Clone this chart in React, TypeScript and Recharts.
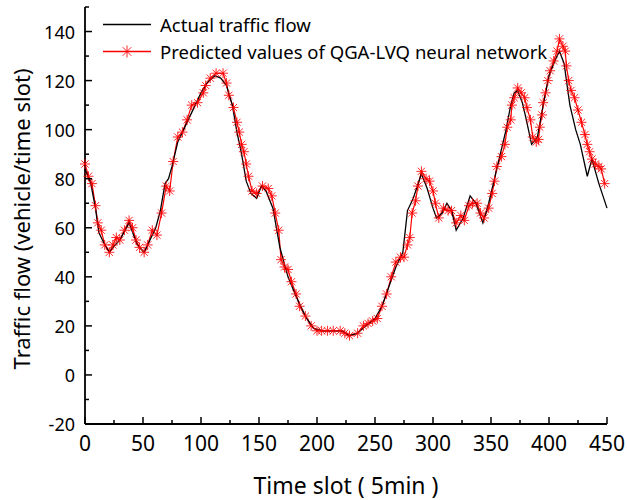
import { LineChart, Line, XAxis, YAxis } from 'recharts';

// Actual traffic flow (black line vertices)
const actualSlots = [
  0, 5, 9, 12, 15, 21, 26, 30, 38, 45, 51, 56, 61, 65, 69, 72, 75, 80, 85, 90,
  95, 100, 105, 112, 117, 122, 127, 131, 135, 139, 143, 148, 152, 156, 162, 168,
  175, 182, 190, 197, 205, 215, 222, 228, 235, 242, 250, 256, 262, 268, 274, 278,
  283, 290, 295, 300, 303, 308, 312, 316, 320, 326, 332, 337, 343, 348, 353, 358,
  363, 367, 370, 373, 377, 380, 385, 390, 395, 400, 405, 409, 413, 418, 423, 427,
  433, 437, 443, 450,
];
const actualFlow = [
  84, 78, 68, 58, 55, 50, 53, 55, 62, 53, 50, 55, 60, 67, 78, 80, 85, 95, 100, 105,
  110, 115, 119, 122, 121, 118, 110, 99, 90, 79, 74, 72, 77, 75, 68, 52,
  40, 32, 24, 19, 18, 18, 18, 16, 17, 20, 23, 28, 36, 44, 50, 67,
  72, 82, 76, 68, 64, 66, 70, 67, 59, 64, 73, 70, 62, 70, 80, 90,
  100, 110, 115, 116, 111, 105, 94, 97, 110, 122, 128, 132, 127, 110, 100, 94,
  81, 88, 78, 68,
];

// Predicted values of QGA-LVQ neural network (red stars)
const predictedSlots = [
  0, 3, 6, 9, 11, 14, 17, 21, 24, 27, 30, 34, 38, 41, 44, 47, 51, 54, 58, 62,
  66, 70, 73, 76, 80, 84, 88, 92, 97, 102, 104, 108, 113, 119, 122, 124, 128, 131,
  133, 135, 137, 139, 141, 144, 148, 153, 158, 161, 164, 167, 169, 172, 175, 178,
  182, 185, 190, 195, 200, 204, 209, 214, 220, 224, 228, 235, 240, 244, 248, 252,
  256, 260, 264, 268, 272, 275, 278, 280, 282, 285, 287, 290, 294, 297, 300, 302,
  305, 309, 313, 316, 320, 324, 327, 331, 334, 338, 341, 344, 348, 351, 353, 355,
  359, 362, 364, 367, 368, 370, 373, 376, 379, 381, 384, 386, 389, 391, 392, 394,
  395, 397, 399, 401, 404, 407, 409, 412, 414, 415, 417, 419, 422, 425, 428, 431,
  433, 435, 437, 440, 443, 445, 448,
];
const predictedFlow = [
  86, 81, 78, 69, 62, 59, 53, 50, 53, 56, 55, 59, 63, 60, 55, 52, 50, 53, 59, 57,
  66, 77, 75, 87, 97, 99, 104, 110, 111, 115, 118, 121, 123, 123, 119, 114, 109, 103,
  99, 94, 91, 86, 81, 75, 74, 77, 76, 73, 66, 59, 47, 44, 43, 38,
  33, 28, 24, 20, 18, 18, 18, 18, 18, 17, 16, 17, 20, 21, 22, 23,
  28, 33, 40, 46, 48, 48, 53, 56, 66, 71, 77, 83, 80, 79, 75, 70,
  64, 68, 67, 67, 62, 65, 63, 69, 70, 70, 66, 64, 68, 74, 79, 85,
  89, 94, 101, 104, 110, 113, 117, 115, 113, 109, 104, 97, 95, 96, 101, 106,
  111, 115, 120, 124, 128, 132, 137, 134, 132, 126, 120, 116, 113, 108, 103, 98,
  94, 91, 88, 86, 85, 84, 78,
];

const xTicks = [
  0, 25, 50, 75, 100, 125, 150, 175, 200, 225, 250, 275, 300, 325, 350, 375, 400,
  425, 450,
];
const yTicks = [
  -20, -10, 0, 10, 20, 30, 40, 50, 60, 70, 80, 90, 100, 110, 120, 130, 140, 150,
];

const actualData = actualSlots.map((slot, i) => ({ slot, flow: actualFlow[i] }));
const predictedData = predictedSlots.map((slot, i) => ({
  slot,
  flow: predictedFlow[i],
}));

const FONT = '"Noto Sans", "Open Sans", sans-serif';

const Star = ({ cx, cy, r = 5, color = '#ff0000' }: any) => {
  const d = r * 0.72;
  return (
    <g stroke={color} strokeWidth={1} strokeOpacity={0.85}>
      <line x1={cx - r} y1={cy} x2={cx + r} y2={cy} />
      <line x1={cx} y1={cy - r} x2={cx} y2={cy + r} />
      <line x1={cx - d} y1={cy - d} x2={cx + d} y2={cy + d} />
      <line x1={cx - d} y1={cy + d} x2={cx + d} y2={cy - d} />
    </g>
  );
};

const XTick = ({ x, y, payload }: any) => {
  const major = payload.value % 50 === 0;
  return (
    <g>
      <line x1={x} y1={y} x2={x} y2={y - (major ? 7 : 4)} stroke="#000" strokeWidth={1.5} />
      {major && (
        <text x={x} y={y + 27} textAnchor="middle" fontSize={21} fill="#000" fontFamily={FONT}>
          {payload.value}
        </text>
      )}
    </g>
  );
};

const YTick = ({ x, y, payload }: any) => {
  const major = payload.value % 20 === 0;
  return (
    <g>
      <line x1={x} y1={y} x2={x + (major ? 7 : 4)} y2={y} stroke="#000" strokeWidth={1.5} />
      {major && (
        <text
          x={x - 10}
          y={y}
          textAnchor="end"
          dominantBaseline="central"
          fontSize={18}
          fill="#000"
          fontFamily={FONT}
        >
          {payload.value}
        </text>
      )}
    </g>
  );
};

const LegendBox = () => (
  <div
    style={{
      position: 'absolute',
      left: 103,
      top: 11,
      fontFamily: FONT,
      fontSize: 18.5,
      color: '#000',
      lineHeight: '27px',
      whiteSpace: 'nowrap',
    }}
  >
    <div style={{ display: 'flex', alignItems: 'center', height: 27 }}>
      <svg width={52} height={27} style={{ marginRight: 5 }}>
        <line x1={0} y1={13.5} x2={48} y2={13.5} stroke="#000" strokeWidth={1.3} />
      </svg>
      <span>Actual traffic flow</span>
    </div>
    <div style={{ display: 'flex', alignItems: 'center', height: 27 }}>
      <svg width={52} height={27} style={{ marginRight: 5 }}>
        <line x1={0} y1={13.5} x2={48} y2={13.5} stroke="#ff0000" strokeWidth={1.3} />
        <Star cx={24} cy={13.5} r={6} />
      </svg>
      <span>Predicted values of QGA-LVQ neural network</span>
    </div>
  </div>
);

const App = () => {
  return (
    <div
      style={{
        position: 'absolute',
        left: 0,
        top: 0,
        width: 627,
        height: 500,
        background: '#fff',
      }}
    >
      <LineChart
        width={627}
        height={500}
        margin={{ top: 7, right: 20, bottom: 0, left: 0 }}
      >
        <XAxis
          type="number"
          dataKey="slot"
          domain={[0, 450]}
          ticks={xTicks}
          interval={0}
          height={76}
          tickSize={0}
          tickMargin={0}
          tickLine={false}
          tick={<XTick />}
          axisLine={{ stroke: '#000', strokeWidth: 1.8 }}
          label={(props: any) => {
            const vb = props.viewBox;
            return (
              <text
                x={vb.x + vb.width / 2}
                y={494}
                textAnchor="middle"
                fontSize={23}
                fill="#000"
                fontFamily={FONT}
              >
                Time slot ( 5min )
              </text>
            );
          }}
        />
        <YAxis
          type="number"
          dataKey="flow"
          domain={[-20, 150]}
          ticks={yTicks}
          interval={0}
          width={85}
          tickSize={0}
          tickMargin={0}
          tickLine={false}
          tick={<YTick />}
          axisLine={{ stroke: '#000', strokeWidth: 1.8 }}
          label={() => (
            <text
              x={21}
              y={219}
              transform="rotate(-90, 21, 219)"
              textAnchor="middle"
              dominantBaseline="central"
              fontSize={22}
              fill="#000"
              fontFamily={FONT}
            >
              Traffic flow (vehicle/time slot)
            </text>
          )}
        />
        <Line
          data={predictedData}
          dataKey="flow"
          name="Predicted values of QGA-LVQ neural network"
          type="linear"
          stroke="#ff0000"
          strokeWidth={1.2}
          dot={(p: any) => <Star key={`s-${p.index}`} cx={p.cx} cy={p.cy} r={5} />}
          activeDot={false}
          isAnimationActive={false}
        />
        <Line
          data={actualData}
          dataKey="flow"
          name="Actual traffic flow"
          type="linear"
          stroke="#000"
          strokeWidth={1.3}
          dot={false}
          activeDot={false}
          isAnimationActive={false}
        />
      </LineChart>
      <LegendBox />
    </div>
  );
};

export default App;
